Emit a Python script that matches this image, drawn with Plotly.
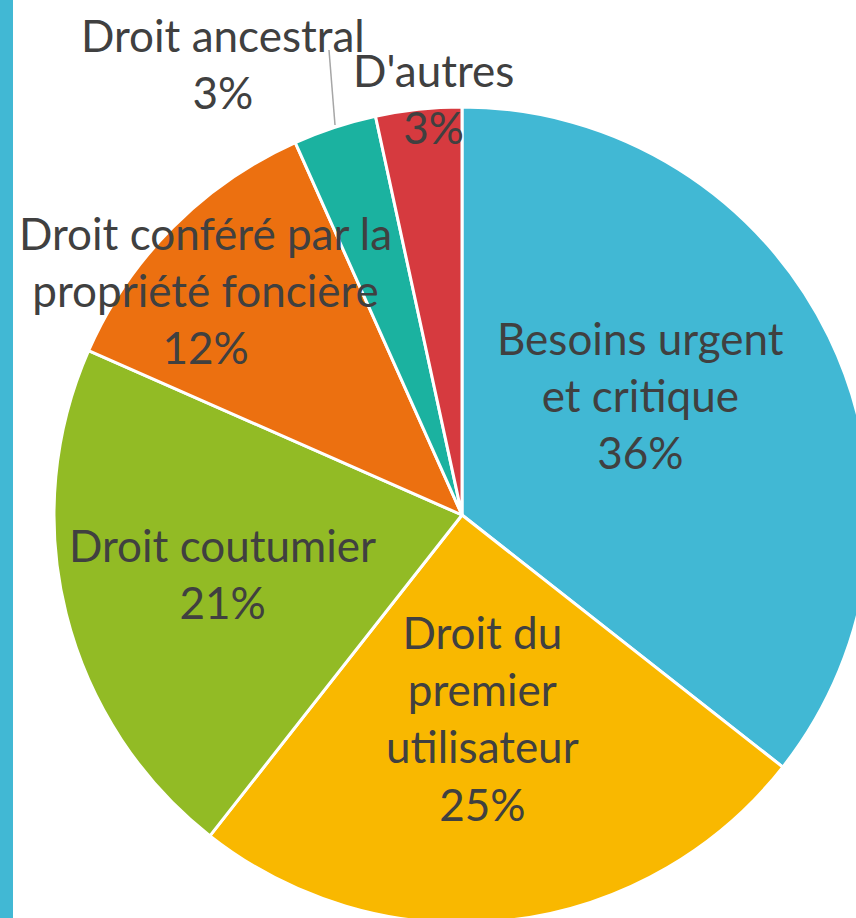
import plotly.graph_objects as go

categories = ["Besoins urgent et critique", "Droit du premier utilisateur", "Droit coutumier",
              "Droit conféré par la propriété foncière", "Droit ancestral", "D'autres"]
label_lines = ["Besoins urgent<br>et critique", "Droit du<br>premier<br>utilisateur", "Droit coutumier",
               "Droit conféré par la<br>propriété foncière", "Droit ancestral", "D'autres"]
values = [35.6, 25.0, 21.0, 11.7, 3.3, 3.4]
colors = ["#41b8d4", "#f9b800", "#92bb25", "#ec7010", "#1bb2a0", "#d63a3f"]

# label centres in pixels (x, y) of the page
label_pos = [(640, 395), (482, 718), (222, 573), (205, 290), (223, 64), (433, 98)]

W, H = 880, 930
ML, MT, PLOT = 54, 107, 816

def px2paper(x, y):
    return (x - ML) / PLOT, 1 - (y - MT) / PLOT

fig = go.Figure(go.Pie(
    labels=categories, values=values, sort=False, direction="clockwise", rotation=0,
    marker=dict(colors=colors, line=dict(color="white", width=3)),
    textinfo="none", hoverinfo="label+percent", showlegend=False,
))

total = sum(values)
for lab, v, (x, y) in zip(label_lines, values, label_pos):
    px, py = px2paper(x, y)
    fig.add_annotation(x=px, y=py, xref="paper", yref="paper", showarrow=False,
                       text=f"{lab}<br>{round(v / total * 100)}%",
                       font=dict(family="Lato", size=44, color="#404040"),
                       xanchor="center", yanchor="middle", align="center")

# leader line for Droit ancestral
x0, y0 = px2paper(329, 50)
x1, y1 = px2paper(335, 125)
fig.add_shape(type="line", xref="paper", yref="paper", x0=x0, y0=y0, x1=x1, y1=y1,
              line=dict(color="#a6a6a6", width=1.5))
# blue side bar
bx0, by0 = px2paper(0, 0)
bx1, by1 = px2paper(13, H)
fig.add_shape(type="rect", xref="paper", yref="paper", x0=bx0, y0=by0, x1=bx1, y1=by1,
              fillcolor="#41b8d4", line=dict(width=0), layer="below")

fig.update_layout(width=W, height=H, margin=dict(l=ML, t=MT, r=W - ML - PLOT, b=H - MT - PLOT),
                  paper_bgcolor="white", plot_bgcolor="white")

fig.write_html("out.html", config={"displayModeBar": False},
               post_script="document.body.style.margin='0';document.body.style.overflow='hidden';document.documentElement.style.overflow='hidden';")
